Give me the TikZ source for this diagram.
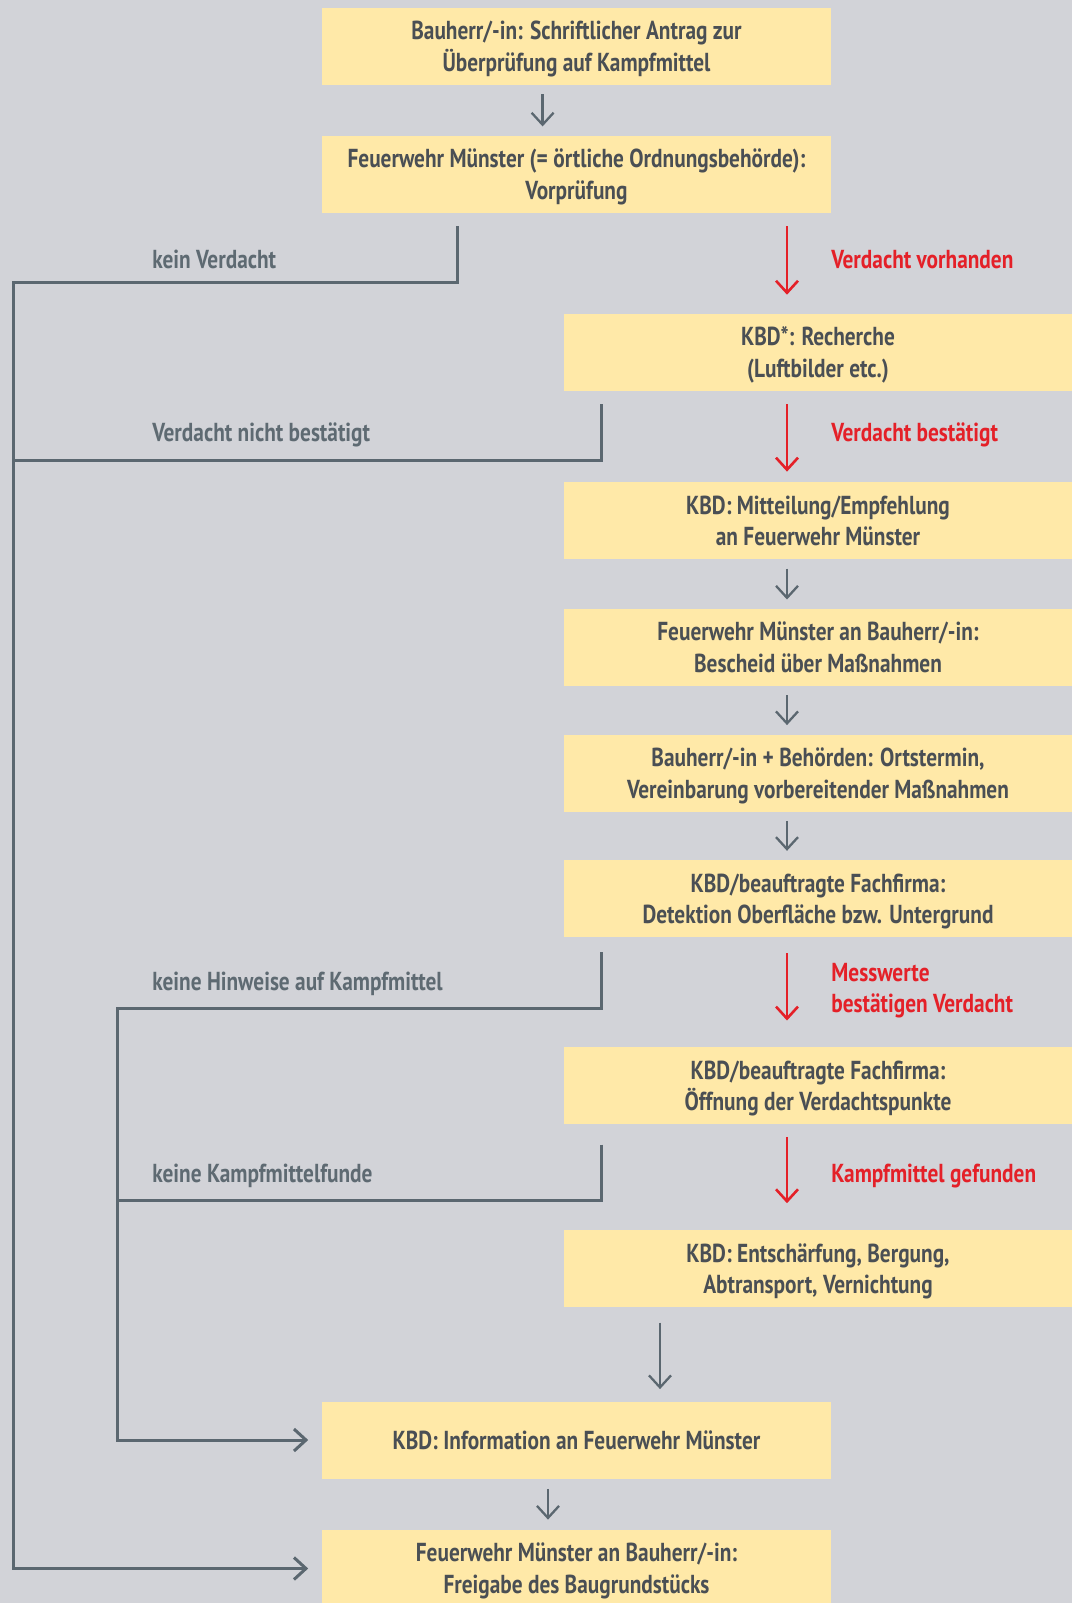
\documentclass[tikz,border=0pt]{standalone}
\usepackage{fontspec}
\setmainfont{PT Sans}[FakeStretch=0.82]
\usetikzlibrary{arrows.meta}
\definecolor{bggray}{RGB}{210,211,216}
\definecolor{boxyellow}{RGB}{255,233,168}
\definecolor{textgray}{RGB}{74,79,84}
\definecolor{linegray}{RGB}{91,103,112}
\definecolor{labelgray}{RGB}{94,106,114}
\definecolor{alarmred}{RGB}{228,32,40}

\tikzset{
  stepbox/.style={fill=boxyellow,minimum width=254.5pt,minimum height=38.5pt,inner sep=0pt,
    align=center,text=textgray,font=\fontsize{13}{15.9}\selectfont\bfseries,text depth=0pt},
  flowarrow/.style={draw=linegray,line width=1.15pt,-{Straight Barb[length=6pt,width=11pt]},
    shorten <=4.5pt,shorten >=4.5pt},
  redarrow/.style={draw=alarmred,line width=1.3pt,-{Straight Barb[length=6pt,width=11pt]}},
  railline/.style={draw=linegray,line width=1.5pt},
  graylabel/.style={anchor=west,inner sep=0pt,text=labelgray,font=\fontsize{13}{15.9}\selectfont\bfseries},
  redlabel/.style={anchor=west,inner sep=0pt,align=left,text=alarmred,font=\fontsize{13}{15.9}\selectfont\bfseries}
}

\begin{document}
\begin{tikzpicture}[x=0.5pt,y=-0.5pt]
\useasboundingbox[fill=bggray] (0,0) rectangle (1072,1603);

\node[stepbox] (antrag) at (576.5,46.5) {Bauherr/-in: Schriftlicher Antrag zur\\Überprüfung auf Kampfmittel};
\node[stepbox] (vorpruef) at (576.5,174.3) {Feuerwehr Münster (= örtliche Ordnungsbehörde):\\Vorprüfung};
\node[stepbox,minimum width=254pt] (recherche) at (818,352) {KBD*: Recherche\\(Luftbilder etc.)};
\node[stepbox,minimum width=254pt] (mitteilung) at (818,520.7) {KBD: Mitteilung/Empfehlung\\an Feuerwehr Münster};
\node[stepbox,minimum width=254pt] (bescheid) at (818,647.4) {Feuerwehr Münster an Bauherr/-in:\\Bescheid über Maßnahmen};
\node[stepbox,minimum width=254pt] (ortstermin) at (818,773) {Bauherr/-in + Behörden: Ortstermin,\\Vereinbarung vorbereitender Maßnahmen};
\node[stepbox,minimum width=254pt] (detektion) at (818,898.7) {KBD/beauftragte Fachfirma:\\Detektion Oberfläche bzw. Untergrund};
\node[stepbox,minimum width=254pt] (oeffnung) at (818,1085.8) {KBD/beauftragte Fachfirma:\\Öffnung der Verdachtspunkte};
\node[stepbox,minimum width=254pt] (entschaerf) at (818,1268.7) {KBD: Entschärfung, Bergung,\\Abtransport, Vernichtung};
\node[stepbox] (information) at (576.5,1440) {KBD: Information an Feuerwehr Münster};
\node[stepbox] (freigabe) at (576.5,1568.5) {Feuerwehr Münster an Bauherr/-in:\\Freigabe des Baugrundstücks};

%\coordinate (mid) at (576.5,0);
\coordinate (redx) at (787,0);
\coordinate (lowx) at (660,0);
\coordinate (lastx) at (548,0);
\coordinate (firstx) at (542.6,0);

\draw[flowarrow] (antrag.south -| firstx) -- (vorpruef.north -| firstx);
\draw[redarrow,shorten <=6.6pt,shorten >=9.2pt] (vorpruef.south -| redx) -- (recherche.north -| redx);
\draw[redarrow,shorten <=6.6pt,shorten >=5.1pt] (recherche.south -| redx) -- (mitteilung.north -| redx);
\draw[flowarrow] (mitteilung.south -| redx) -- (bescheid.north -| redx);
\draw[flowarrow] (bescheid.south -| redx) -- (ortstermin.north -| redx);
\draw[flowarrow] (ortstermin.south -| redx) -- (detektion.north -| redx);
\draw[redarrow,shorten <=7.7pt,shorten >=13.2pt] (detektion.south -| redx) -- (oeffnung.north -| redx);
\draw[redarrow,shorten <=6.1pt,shorten >=13.3pt] (oeffnung.south -| redx) -- (entschaerf.north -| redx);
\draw[flowarrow,shorten <=7.5pt,shorten >=6pt] (entschaerf.south -| lowx) -- (information.north -| lowx);
\draw[flowarrow,shorten <=5pt,shorten >=5pt] (information.south -| lastx) -- (freigabe.north -| lastx);

\coordinate (kvtop) at (457,226);
\coordinate (outerrail) at (13.3,282);
\coordinate (vnbtop) at (601,404);
\coordinate (outerjoin) at (13.3,460);
\coordinate (khtop) at (601,952.4);
\coordinate (innerrail) at (117.5,1008.6);
\coordinate (kkftop) at (601,1144.5);
\coordinate (innerjoin) at (117.5,1200.7);

\draw[railline,-{Straight Barb[length=6pt,width=11pt]},shorten >=6.7pt] (kvtop) |- (outerrail) |- (freigabe.west);
\draw[railline] (vnbtop) |- (outerjoin);
\draw[railline,-{Straight Barb[length=6pt,width=11pt]},shorten >=6.7pt] (khtop) |- (innerrail) |- (information.west);
\draw[railline] (kkftop) |- (innerjoin);

\node[graylabel] (kvlabel) at (152,259.5) {kein Verdacht};
\node[graylabel] (vnblabel) at (152,435.3) {Verdacht nicht bestätigt};
\node[graylabel] (khlabel) at (152,984) {keine Hinweise auf Kampfmittel};
\node[graylabel] (kkflabel) at (152,1176.2) {keine Kampfmittelfunde};

\node[redlabel] (vvlabel) at (831,259.5) {Verdacht vorhanden};
\node[redlabel] (vblabel) at (831,435.3) {Verdacht bestätigt};
\node[redlabel] (mwlabel) at (831,990.7) {Messwerte\\bestätigen Verdacht};
\node[redlabel] (kglabel) at (831,1176.2) {Kampfmittel gefunden};
\end{tikzpicture}
\end{document}
